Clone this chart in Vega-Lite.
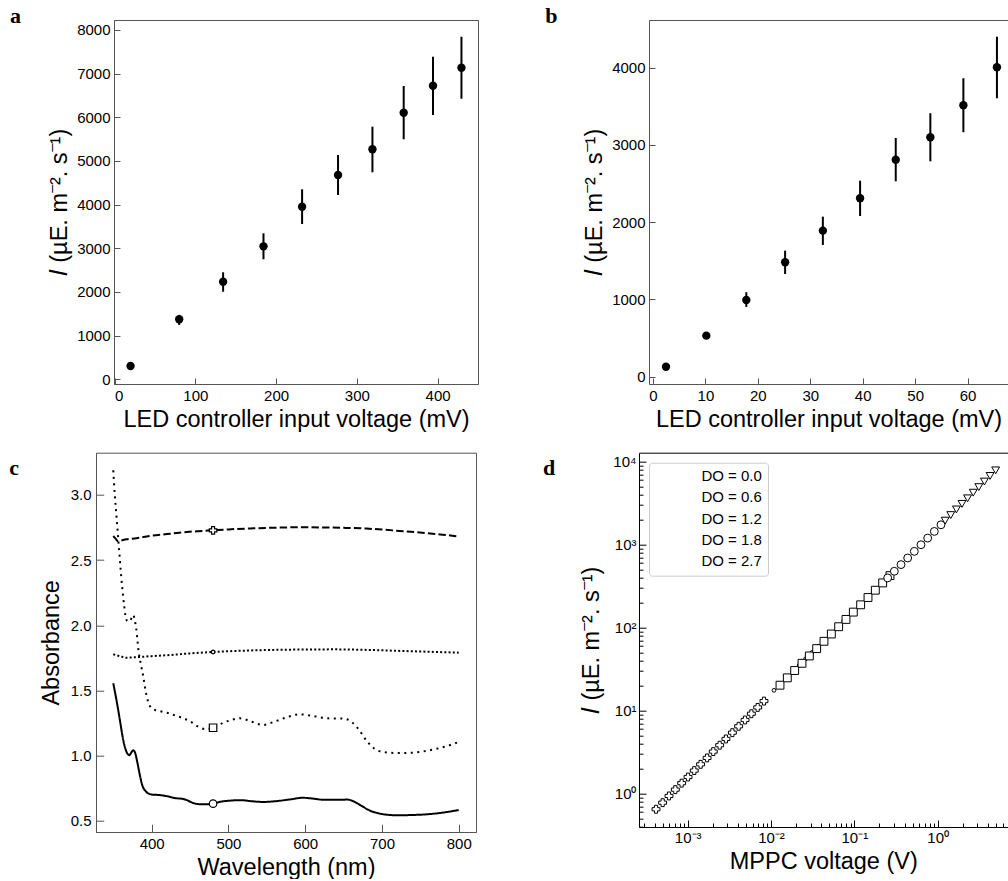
{
  "$schema": "https://vega.github.io/schema/vega-lite/v6.json",
  "padding": {"left": 8, "top": 4, "right": 0, "bottom": 0},
  "config": {
    "font": "Liberation Sans",
    "view": {"stroke": null},
    "axis": {
      "labelFont": "Liberation Sans", "labelFontSize": 15, "labelColor": "black",
      "titleFont": "Liberation Sans", "titleFontSize": 23.5, "titleFontWeight": "normal", "titleColor": "black",
      "grid": false, "tickSize": -6, "labelPadding": 10, "titlePadding": 4,
      "domainColor": "#555", "tickColor": "#555", "tickWidth": 1, "domainWidth": 1
    },
    "axisY": {"titlePadding": 5},
    "title": {"font": "Liberation Serif", "fontSize": 22, "fontWeight": "bold", "anchor": "start", "frame": "group", "baseline": "alphabetic", "offset": 0, "color": "black"}
  },
  "datasets": {
    "a": [
      {"v": 19.8, "i": 305, "lo": 275, "hi": 335},
      {"v": 80, "i": 1374, "lo": 1245, "hi": 1475},
      {"v": 134.4, "i": 2235, "lo": 2006, "hi": 2450},
      {"v": 184.4, "i": 3045, "lo": 2748, "hi": 3343},
      {"v": 232.2, "i": 3953, "lo": 3556, "hi": 4351},
      {"v": 276.7, "i": 4678, "lo": 4220, "hi": 5136},
      {"v": 319.3, "i": 5267, "lo": 4740, "hi": 5784},
      {"v": 358, "i": 6105, "lo": 5496, "hi": 6716},
      {"v": 394.3, "i": 6723, "lo": 6052, "hi": 7387},
      {"v": 429.5, "i": 7136, "lo": 6425, "hi": 7845}
    ],
    "b": [
      {"v": 2.48, "i": 129, "lo": 117, "hi": 141},
      {"v": 10.17, "i": 531, "lo": 506, "hi": 556},
      {"v": 17.8, "i": 993, "lo": 903, "hi": 1093},
      {"v": 25.2, "i": 1481, "lo": 1329, "hi": 1631},
      {"v": 32.4, "i": 1890, "lo": 1705, "hi": 2071},
      {"v": 39.5, "i": 2309, "lo": 2080, "hi": 2537},
      {"v": 46.3, "i": 2809, "lo": 2529, "hi": 3090},
      {"v": 52.9, "i": 3099, "lo": 2788, "hi": 3410},
      {"v": 59.2, "i": 3513, "lo": 3164, "hi": 3863},
      {"v": 65.6, "i": 4005, "lo": 3604, "hi": 4401}
    ],
    "c": [
      {"s": "DO = 0.6", "wl": 350, "a": 1.556}, {"s": "DO = 0.6", "wl": 355, "a": 1.40}, {"s": "DO = 0.6", "wl": 359, "a": 1.26},
      {"s": "DO = 0.6", "wl": 363, "a": 1.12}, {"s": "DO = 0.6", "wl": 366, "a": 1.05}, {"s": "DO = 0.6", "wl": 369, "a": 1.012},
      {"s": "DO = 0.6", "wl": 371, "a": 1.005}, {"s": "DO = 0.6", "wl": 373, "a": 1.02}, {"s": "DO = 0.6", "wl": 376, "a": 1.042},
      {"s": "DO = 0.6", "wl": 378, "a": 1.03}, {"s": "DO = 0.6", "wl": 381, "a": 0.96}, {"s": "DO = 0.6", "wl": 384, "a": 0.87},
      {"s": "DO = 0.6", "wl": 388, "a": 0.77}, {"s": "DO = 0.6", "wl": 392, "a": 0.73}, {"s": "DO = 0.6", "wl": 396, "a": 0.71},
      {"s": "DO = 0.6", "wl": 400, "a": 0.703}, {"s": "DO = 0.6", "wl": 410, "a": 0.699}, {"s": "DO = 0.6", "wl": 420, "a": 0.690},
      {"s": "DO = 0.6", "wl": 430, "a": 0.676}, {"s": "DO = 0.6", "wl": 440, "a": 0.670}, {"s": "DO = 0.6", "wl": 446, "a": 0.660},
      {"s": "DO = 0.6", "wl": 452, "a": 0.643}, {"s": "DO = 0.6", "wl": 460, "a": 0.630}, {"s": "DO = 0.6", "wl": 470, "a": 0.628},
      {"s": "DO = 0.6", "wl": 480, "a": 0.633}, {"s": "DO = 0.6", "wl": 490, "a": 0.648}, {"s": "DO = 0.6", "wl": 500, "a": 0.655},
      {"s": "DO = 0.6", "wl": 515, "a": 0.660}, {"s": "DO = 0.6", "wl": 530, "a": 0.652}, {"s": "DO = 0.6", "wl": 545, "a": 0.646},
      {"s": "DO = 0.6", "wl": 560, "a": 0.651}, {"s": "DO = 0.6", "wl": 580, "a": 0.665}, {"s": "DO = 0.6", "wl": 597, "a": 0.678},
      {"s": "DO = 0.6", "wl": 610, "a": 0.672}, {"s": "DO = 0.6", "wl": 625, "a": 0.662}, {"s": "DO = 0.6", "wl": 640, "a": 0.662},
      {"s": "DO = 0.6", "wl": 655, "a": 0.664}, {"s": "DO = 0.6", "wl": 665, "a": 0.645}, {"s": "DO = 0.6", "wl": 675, "a": 0.610},
      {"s": "DO = 0.6", "wl": 685, "a": 0.578}, {"s": "DO = 0.6", "wl": 695, "a": 0.560}, {"s": "DO = 0.6", "wl": 705, "a": 0.549},
      {"s": "DO = 0.6", "wl": 720, "a": 0.544}, {"s": "DO = 0.6", "wl": 740, "a": 0.546}, {"s": "DO = 0.6", "wl": 760, "a": 0.552},
      {"s": "DO = 0.6", "wl": 780, "a": 0.565}, {"s": "DO = 0.6", "wl": 800, "a": 0.584},

      {"s": "DO = 1.2", "wl": 350, "a": 3.189}, {"s": "DO = 1.2", "wl": 352, "a": 3.00}, {"s": "DO = 1.2", "wl": 354, "a": 2.85},
      {"s": "DO = 1.2", "wl": 356, "a": 2.70}, {"s": "DO = 1.2", "wl": 358, "a": 2.55}, {"s": "DO = 1.2", "wl": 360, "a": 2.40},
      {"s": "DO = 1.2", "wl": 362, "a": 2.27}, {"s": "DO = 1.2", "wl": 364, "a": 2.16}, {"s": "DO = 1.2", "wl": 366, "a": 2.07},
      {"s": "DO = 1.2", "wl": 368, "a": 2.035}, {"s": "DO = 1.2", "wl": 370, "a": 2.030}, {"s": "DO = 1.2", "wl": 372, "a": 2.034},
      {"s": "DO = 1.2", "wl": 374, "a": 2.060}, {"s": "DO = 1.2", "wl": 376, "a": 2.080}, {"s": "DO = 1.2", "wl": 378, "a": 2.04},
      {"s": "DO = 1.2", "wl": 380, "a": 1.97}, {"s": "DO = 1.2", "wl": 383, "a": 1.80}, {"s": "DO = 1.2", "wl": 386, "a": 1.70},
      {"s": "DO = 1.2", "wl": 389, "a": 1.61}, {"s": "DO = 1.2", "wl": 393, "a": 1.47}, {"s": "DO = 1.2", "wl": 397, "a": 1.39},
      {"s": "DO = 1.2", "wl": 401, "a": 1.36}, {"s": "DO = 1.2", "wl": 410, "a": 1.343}, {"s": "DO = 1.2", "wl": 420, "a": 1.33},
      {"s": "DO = 1.2", "wl": 430, "a": 1.31}, {"s": "DO = 1.2", "wl": 440, "a": 1.29}, {"s": "DO = 1.2", "wl": 450, "a": 1.265},
      {"s": "DO = 1.2", "wl": 460, "a": 1.225}, {"s": "DO = 1.2", "wl": 470, "a": 1.205}, {"s": "DO = 1.2", "wl": 480, "a": 1.215},
      {"s": "DO = 1.2", "wl": 490, "a": 1.245}, {"s": "DO = 1.2", "wl": 500, "a": 1.268}, {"s": "DO = 1.2", "wl": 515, "a": 1.287},
      {"s": "DO = 1.2", "wl": 530, "a": 1.262}, {"s": "DO = 1.2", "wl": 545, "a": 1.236}, {"s": "DO = 1.2", "wl": 560, "a": 1.262},
      {"s": "DO = 1.2", "wl": 575, "a": 1.293}, {"s": "DO = 1.2", "wl": 592, "a": 1.318}, {"s": "DO = 1.2", "wl": 610, "a": 1.305},
      {"s": "DO = 1.2", "wl": 630, "a": 1.287}, {"s": "DO = 1.2", "wl": 650, "a": 1.285}, {"s": "DO = 1.2", "wl": 660, "a": 1.262},
      {"s": "DO = 1.2", "wl": 670, "a": 1.20}, {"s": "DO = 1.2", "wl": 680, "a": 1.115}, {"s": "DO = 1.2", "wl": 690, "a": 1.055},
      {"s": "DO = 1.2", "wl": 700, "a": 1.03}, {"s": "DO = 1.2", "wl": 715, "a": 1.022}, {"s": "DO = 1.2", "wl": 730, "a": 1.021},
      {"s": "DO = 1.2", "wl": 750, "a": 1.030}, {"s": "DO = 1.2", "wl": 770, "a": 1.052}, {"s": "DO = 1.2", "wl": 785, "a": 1.075},
      {"s": "DO = 1.2", "wl": 800, "a": 1.106},

      {"s": "DO = 1.8", "wl": 350, "a": 1.778}, {"s": "DO = 1.8", "wl": 360, "a": 1.762}, {"s": "DO = 1.8", "wl": 367, "a": 1.752},
      {"s": "DO = 1.8", "wl": 375, "a": 1.754}, {"s": "DO = 1.8", "wl": 385, "a": 1.758}, {"s": "DO = 1.8", "wl": 400, "a": 1.764},
      {"s": "DO = 1.8", "wl": 420, "a": 1.771}, {"s": "DO = 1.8", "wl": 450, "a": 1.785}, {"s": "DO = 1.8", "wl": 480, "a": 1.796},
      {"s": "DO = 1.8", "wl": 520, "a": 1.806}, {"s": "DO = 1.8", "wl": 550, "a": 1.811}, {"s": "DO = 1.8", "wl": 600, "a": 1.815},
      {"s": "DO = 1.8", "wl": 640, "a": 1.816}, {"s": "DO = 1.8", "wl": 680, "a": 1.812}, {"s": "DO = 1.8", "wl": 720, "a": 1.805},
      {"s": "DO = 1.8", "wl": 760, "a": 1.798}, {"s": "DO = 1.8", "wl": 800, "a": 1.791},

      {"s": "DO = 2.7", "wl": 350, "a": 2.685}, {"s": "DO = 2.7", "wl": 353, "a": 2.665}, {"s": "DO = 2.7", "wl": 356, "a": 2.645},
      {"s": "DO = 2.7", "wl": 360, "a": 2.650}, {"s": "DO = 2.7", "wl": 367, "a": 2.660}, {"s": "DO = 2.7", "wl": 380, "a": 2.668},
      {"s": "DO = 2.7", "wl": 397, "a": 2.685}, {"s": "DO = 2.7", "wl": 420, "a": 2.700}, {"s": "DO = 2.7", "wl": 436, "a": 2.711},
      {"s": "DO = 2.7", "wl": 460, "a": 2.722}, {"s": "DO = 2.7", "wl": 480, "a": 2.729}, {"s": "DO = 2.7", "wl": 500, "a": 2.736},
      {"s": "DO = 2.7", "wl": 532, "a": 2.744}, {"s": "DO = 2.7", "wl": 560, "a": 2.749}, {"s": "DO = 2.7", "wl": 593, "a": 2.752},
      {"s": "DO = 2.7", "wl": 620, "a": 2.751}, {"s": "DO = 2.7", "wl": 650, "a": 2.748}, {"s": "DO = 2.7", "wl": 680, "a": 2.742},
      {"s": "DO = 2.7", "wl": 700, "a": 2.735}, {"s": "DO = 2.7", "wl": 723, "a": 2.724}, {"s": "DO = 2.7", "wl": 745, "a": 2.714},
      {"s": "DO = 2.7", "wl": 766, "a": 2.703}, {"s": "DO = 2.7", "wl": 785, "a": 2.692}, {"s": "DO = 2.7", "wl": 800, "a": 2.680}
    ],
    "cm": [
      {"s": "DO = 0.6", "wl": 480, "a": 0.633},
      {"s": "DO = 1.2", "wl": 480, "a": 1.215},
      {"s": "DO = 1.8", "wl": 480, "a": 1.796},
      {"s": "DO = 2.7", "wl": 480, "a": 2.729}
    ],
    "d": [
      {"DO": "DO = 2.7", "dov": 2.7, "v": 0.000417, "i": 0.65}, {"DO": "DO = 2.7", "dov": 2.7, "v": 0.000501, "i": 0.78}, {"DO": "DO = 2.7", "dov": 2.7, "v": 0.000597, "i": 0.94},
      {"DO": "DO = 2.7", "dov": 2.7, "v": 0.000711, "i": 1.12}, {"DO": "DO = 2.7", "dov": 2.7, "v": 0.000847, "i": 1.34}, {"DO": "DO = 2.7", "dov": 2.7, "v": 0.00101, "i": 1.59},
      {"DO": "DO = 2.7", "dov": 2.7, "v": 0.0012, "i": 1.9}, {"DO": "DO = 2.7", "dov": 2.7, "v": 0.00143, "i": 2.26}, {"DO": "DO = 2.7", "dov": 2.7, "v": 0.00171, "i": 2.7},
      {"DO": "DO = 2.7", "dov": 2.7, "v": 0.00203, "i": 3.22}, {"DO": "DO = 2.7", "dov": 2.7, "v": 0.00242, "i": 3.84}, {"DO": "DO = 2.7", "dov": 2.7, "v": 0.00288, "i": 4.57},
      {"DO": "DO = 2.7", "dov": 2.7, "v": 0.00344, "i": 5.44}, {"DO": "DO = 2.7", "dov": 2.7, "v": 0.00409, "i": 6.49}, {"DO": "DO = 2.7", "dov": 2.7, "v": 0.00488, "i": 7.73},
      {"DO": "DO = 2.7", "dov": 2.7, "v": 0.00581, "i": 9.2}, {"DO": "DO = 2.7", "dov": 2.7, "v": 0.00692, "i": 10.96}, {"DO": "DO = 2.7", "dov": 2.7, "v": 0.00824, "i": 13.06},
      {"DO": "DO = 1.8", "dov": 1.8, "v": 0.01086, "i": 17.6}, {"DO": "DO = 1.8", "dov": 1.8, "v": 0.01294, "i": 21.0}, {"DO": "DO = 1.8", "dov": 1.8, "v": 0.01542, "i": 25.0},
      {"DO": "DO = 1.8", "dov": 1.8, "v": 0.01837, "i": 29.8}, {"DO": "DO = 1.8", "dov": 1.8, "v": 0.02188, "i": 35.4}, {"DO": "DO = 1.8", "dov": 1.8, "v": 0.02606, "i": 42.2},
      {"DO": "DO = 1.8", "dov": 1.8, "v": 0.03105, "i": 50.3}, {"DO": "DO = 1.8", "dov": 1.8, "v": 0.03698, "i": 59.9}, {"DO": "DO = 1.8", "dov": 1.8, "v": 0.04406, "i": 71.4},
      {"DO": "DO = 1.8", "dov": 1.8, "v": 0.05248, "i": 85.0}, {"DO": "DO = 1.8", "dov": 1.8, "v": 0.06252, "i": 101.3}, {"DO": "DO = 1.8", "dov": 1.8, "v": 0.07447, "i": 120.6},
      {"DO": "DO = 1.2", "dov": 1.2, "v": 0.01282, "i": 20.3}, {"DO": "DO = 1.2", "dov": 1.2, "v": 0.0157, "i": 24.9}, {"DO": "DO = 1.2", "dov": 1.2, "v": 0.01923, "i": 30.5},
      {"DO": "DO = 1.2", "dov": 1.2, "v": 0.02355, "i": 37.3}, {"DO": "DO = 1.2", "dov": 1.2, "v": 0.02884, "i": 45.7}, {"DO": "DO = 1.2", "dov": 1.2, "v": 0.03532, "i": 56.0},
      {"DO": "DO = 1.2", "dov": 1.2, "v": 0.04325, "i": 68.6}, {"DO": "DO = 1.2", "dov": 1.2, "v": 0.05297, "i": 84.0}, {"DO": "DO = 1.2", "dov": 1.2, "v": 0.06486, "i": 102.8},
      {"DO": "DO = 1.2", "dov": 1.2, "v": 0.07943, "i": 125.9}, {"DO": "DO = 1.2", "dov": 1.2, "v": 0.09727, "i": 154.2}, {"DO": "DO = 1.2", "dov": 1.2, "v": 0.1191, "i": 188.8},
      {"DO": "DO = 1.2", "dov": 1.2, "v": 0.1459, "i": 231.2}, {"DO": "DO = 1.2", "dov": 1.2, "v": 0.1786, "i": 283.1}, {"DO": "DO = 1.2", "dov": 1.2, "v": 0.2188, "i": 346.7},
      {"DO": "DO = 1.2", "dov": 1.2, "v": 0.2679, "i": 424.6},
      {"DO": "DO = 0.6", "dov": 0.6, "v": 0.2512, "i": 398}, {"DO": "DO = 0.6", "dov": 0.6, "v": 0.302, "i": 479}, {"DO": "DO = 0.6", "dov": 0.6, "v": 0.3631, "i": 576},
      {"DO": "DO = 0.6", "dov": 0.6, "v": 0.4365, "i": 692}, {"DO": "DO = 0.6", "dov": 0.6, "v": 0.5248, "i": 832}, {"DO": "DO = 0.6", "dov": 0.6, "v": 0.631, "i": 1000},
      {"DO": "DO = 0.6", "dov": 0.6, "v": 0.7586, "i": 1202}, {"DO": "DO = 0.6", "dov": 0.6, "v": 0.912, "i": 1446}, {"DO": "DO = 0.6", "dov": 0.6, "v": 1.096, "i": 1738},
      {"DO": "DO = 0.0", "dov": 0.0, "v": 1.23, "i": 1950}, {"DO": "DO = 0.0", "dov": 0.0, "v": 1.436, "i": 2276}, {"DO": "DO = 0.0", "dov": 0.0, "v": 1.679, "i": 2661},
      {"DO": "DO = 0.0", "dov": 0.0, "v": 1.959, "i": 3105}, {"DO": "DO = 0.0", "dov": 0.0, "v": 2.286, "i": 3623}, {"DO": "DO = 0.0", "dov": 0.0, "v": 2.673, "i": 4237},
      {"DO": "DO = 0.0", "dov": 0.0, "v": 3.119, "i": 4944}, {"DO": "DO = 0.0", "dov": 0.0, "v": 3.639, "i": 5768}, {"DO": "DO = 0.0", "dov": 0.0, "v": 4.256, "i": 6746},
      {"DO": "DO = 0.0", "dov": 0.0, "v": 4.966, "i": 7871}
    ]
  },
  "bounds": "full",
  "spacing": 20.7,
  "resolve": {"scale": {"shape": "independent", "strokeDash": "independent", "size": "independent"}, "legend": {"shape": "independent", "strokeDash": "independent"}},
  "vconcat": [
    {
      "bounds": "flush",
      "spacing": 0,
      "hconcat": [
        {"width": 17.4, "height": 364, "data": {"values": [{"z": 0}]}, "mark": {"type": "point", "opacity": 0}},
        {
          "width": 364, "height": 364,
          "title": {"text": "a", "dx": -104.1, "dy": 12.4},
          "view": {"stroke": "#555"},
          "data": {"name": "a"},
          "layer": [
            {
              "mark": {"type": "rule", "strokeWidth": 2, "color": "black"},
              "encoding": {
                "x": {"field": "v", "type": "quantitative", "scale": {"domain": [-0.7, 450], "nice": false, "zero": false},
                      "axis": {"values": [0, 100, 200, 300, 400], "title": "LED controller input voltage (mV)"}},
                "y": {"field": "lo", "type": "quantitative", "scale": {"domain": [-108, 8228], "nice": false, "zero": false},
                      "axis": {"values": [0, 1000, 2000, 3000, 4000, 5000, 6000, 7000, 8000], "format": "d", "title": "𝐼 (µE. m⁻². s⁻¹)"}},
                "y2": {"field": "hi"}
              }
            },
            {
              "mark": {"type": "point", "filled": true, "color": "black", "size": 70, "opacity": 1},
              "encoding": {
                "x": {"field": "v", "type": "quantitative"},
                "y": {"field": "i", "type": "quantitative"}
              }
            }
          ]
        },
        {"width": 170.6, "height": 364, "data": {"values": [{"z": 0}]}, "mark": {"type": "point", "opacity": 0}},
        {
          "width": 359, "height": 364,
          "title": {"text": "b", "dx": -103.7, "dy": 12.4},
          "data": {"name": "b"},
          "resolve": {"axis": {"x": "independent"}},
          "layer": [
            {
              "mark": {"type": "rule", "strokeWidth": 2, "color": "black"},
              "encoding": {
                "x": {"field": "v", "type": "quantitative", "scale": {"domain": [-0.76, 67.71], "nice": false, "zero": false},
                      "axis": {"orient": "bottom", "values": [0, 10, 20, 30, 40, 50, 60], "title": "LED controller input voltage (mV)"}},
                "y": {"field": "lo", "type": "quantitative", "scale": {"domain": [-95, 4617], "nice": false, "zero": false},
                      "axis": {"values": [0, 1000, 2000, 3000, 4000], "format": "d", "title": "𝐼 (µE. m⁻². s⁻¹)"}},
                "y2": {"field": "hi"}
              }
            },
            {
              "mark": {"type": "point", "filled": true, "color": "black", "size": 70, "opacity": 1},
              "encoding": {
                "x": {"field": "v", "type": "quantitative",
                      "axis": {"orient": "top", "labels": false, "ticks": false, "title": null}},
                "y": {"field": "i", "type": "quantitative"}
              }
            }
          ]
        }
      ]
    },
    {
      "bounds": "flush",
      "spacing": 0,
      "resolve": {"scale": {"shape": "independent", "strokeDash": "independent", "size": "independent"}, "legend": {"shape": "independent"}},
      "hconcat": [
        {
          "width": 380, "height": 379.3,
          "title": {"text": "c", "dx": -86.7, "dy": 31},
          "view": {"stroke": "#555"},
          "layer": [
            {
              "data": {"name": "c"},
              "mark": {"type": "line", "strokeWidth": 2, "color": "black", "interpolate": "monotone", "strokeCap": "butt"},
              "encoding": {
                "x": {"field": "wl", "type": "quantitative", "scale": {"domain": [327.5, 822.5], "nice": false, "zero": false},
                      "axis": {"values": [400, 500, 600, 700, 800], "title": "Wavelength (nm)", "tickSize": -7.7, "labelPadding": 11.7}},
                "y": {"field": "a", "type": "quantitative", "scale": {"domain": [0.4156, 3.324], "nice": false, "zero": false},
                      "axis": {"values": [0.5, 1.0, 1.5, 2.0, 2.5, 3.0], "format": ".1f", "title": "Absorbance", "tickSize": -7.7, "labelPadding": 12.7, "titlePadding": 7}},
                "strokeDash": {"field": "s", "type": "nominal", "legend": null,
                               "scale": {"domain": ["DO = 0.6", "DO = 1.2", "DO = 1.8", "DO = 2.7"], "range": [[1, 0], [2, 4.5], [2, 2.2], [7.4, 3.2]]}}
              }
            },
            {
              "data": {"name": "cm"},
              "mark": {"type": "point", "filled": true, "fill": "white", "stroke": "black", "strokeWidth": 1.2, "size": 56, "opacity": 1},
              "encoding": {
                "x": {"field": "wl", "type": "quantitative"},
                "y": {"field": "a", "type": "quantitative"},
                "shape": {"field": "s", "type": "nominal", "legend": null,
                          "scale": {"domain": ["DO = 0.6", "DO = 1.2", "DO = 1.8", "DO = 2.7"],
                                    "range": ["circle", "square", "M-0.48,0A0.48,0.48,0,1,0,0.48,0A0.48,0.48,0,1,0,-0.48,0Z", "cross"]}}
              }
            }
          ]
        },
        {"width": 162.6, "height": 10, "data": {"values": [{"z": 0}]}, "mark": {"type": "point", "opacity": 0}},
        {
          "width": 368.5, "height": 374.3,
          "title": {"text": "d", "dx": -96, "dy": 31},
          "data": {"name": "d"},
          "resolve": {"axis": {"x": "independent"}},
          "layer": [
            {
              "mark": {"type": "point", "filled": false, "fill": "white", "stroke": "black", "color": "black", "strokeWidth": 1, "opacity": 1},
              "encoding": {
                "x": {"field": "v", "type": "quantitative",
                      "scale": {"type": "log", "domain": [0.0002606, 6.888], "nice": false, "zero": false},
                      "axis": {"orient": "bottom", "title": "MPPC voltage (V)", "domainColor": "black", "tickColor": "black",
                               "values": [0.0003, 0.0004, 0.0005, 0.0006, 0.0007, 0.0008, 0.0009, 0.001, 0.002, 0.003, 0.004, 0.005, 0.006, 0.007, 0.008, 0.009, 0.01, 0.02, 0.03, 0.04, 0.05, 0.06, 0.07, 0.08, 0.09, 0.1, 0.2, 0.3, 0.4, 0.5, 0.6, 0.7, 0.8, 0.9, 1, 2, 3, 4, 5, 6],
                               "tickSize": {"condition": {"test": "datum.value == 0.001 || datum.value == 0.01 || datum.value == 0.1 || datum.value == 1", "value": -7}, "value": -4},
                               "labelExpr": "datum.value == 0.001 ? '10⁻³' : datum.value == 0.01 ? '10⁻²' : datum.value == 0.1 ? '10⁻¹' : datum.value == 1 ? '10⁰' : ''"}},
                "y": {"field": "i", "type": "quantitative",
                      "scale": {"type": "log", "domain": [0.3972, 12843], "nice": false, "zero": false},
                      "axis": {"title": "𝐼 (µE. m⁻². s⁻¹)", "domainColor": "black", "tickColor": "black", "titlePadding": 9,
                               "values": [0.4, 0.5, 0.6, 0.7, 0.8, 0.9, 1, 2, 3, 4, 5, 6, 7, 8, 9, 10, 20, 30, 40, 50, 60, 70, 80, 90, 100, 200, 300, 400, 500, 600, 700, 800, 900, 1000, 2000, 3000, 4000, 5000, 6000, 7000, 8000, 9000, 10000],
                               "tickSize": {"condition": {"test": "datum.value == 1 || datum.value == 10 || datum.value == 100 || datum.value == 1000 || datum.value == 10000", "value": -7}, "value": -4},
                               "labelExpr": "datum.value == 1 ? '10⁰' : datum.value == 10 ? '10¹' : datum.value == 100 ? '10²' : datum.value == 1000 ? '10³' : datum.value == 10000 ? '10⁴' : ''"}},
                "size": {"field": "dov", "type": "quantitative", "legend": null,
                         "scale": {"type": "threshold", "domain": [1.5, 2.0], "range": [62, 14, 62]}},
                "shape": {"field": "DO", "type": "nominal",
                          "scale": {"domain": ["DO = 0.0", "DO = 0.6", "DO = 1.2", "DO = 1.8", "DO = 2.7"],
                                    "range": ["triangle-down", "circle", "square", "circle", "cross"]},
                          "legend": {"title": null, "orient": "top-left", "offset": 10, "padding": 6,
                                     "strokeColor": "#cccccc", "fillColor": "white", "cornerRadius": 3,
                                     "labelFont": "Liberation Sans", "labelFontSize": 15, "labelColor": "black",
                                     "symbolSize": 62, "symbolFillColor": "white", "symbolStrokeColor": "black",
                                     "labelOffset": 31.4, "rowPadding": 5.25}}
              }
            },
            {
              "mark": {"type": "text", "text": ""},
              "encoding": {
                "x": {"field": "v", "type": "quantitative",
                      "axis": {"orient": "top", "labels": false, "ticks": false, "title": null, "domainColor": "black"}},
                "y": {"field": "i", "type": "quantitative"}
              }
            }
          ]
        }
      ]
    }
  ]
}
